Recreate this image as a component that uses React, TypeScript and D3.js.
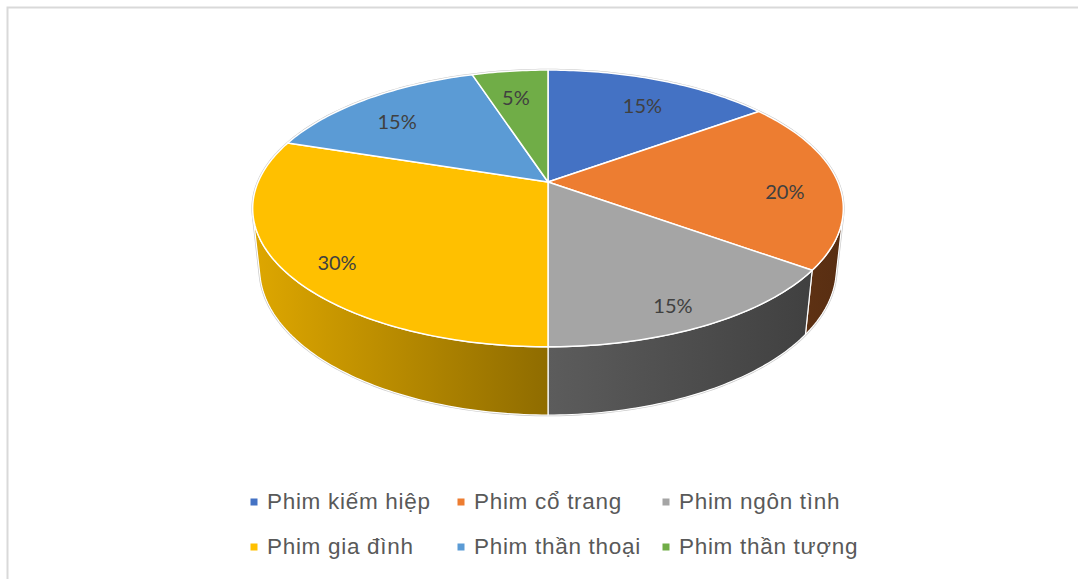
import React from "react";
import * as d3 from "d3";

const categories = ["Phim kiếm hiệp", "Phim cổ trang", "Phim ngôn tình", "Phim gia đình", "Phim thần thoại", "Phim thần tượng"];
const values = [15, 20, 15, 30, 15, 5];
const colors = ["#4472C4", "#ED7D31", "#A5A5A5", "#FFC000", "#5B9BD5", "#70AD47"];

const W = 1078, H = 579;
const CX = 548, CY = 182;
const F = 1348, DIST = 4.65, SINA = 0.46, COSA = 0.888, THICK = 0.2354;

function proj(thetaDeg: number, rho: number, Y: number): [number, number] {
  const t = (thetaDeg * Math.PI) / 180;
  const X = rho * Math.sin(t);
  const Z = rho * Math.cos(t);
  const xc = X;
  const yc = Y * COSA + Z * SINA;
  const zc = DIST + Z * COSA - Y * SINA;
  return [CX + (F * xc) / zc, CY - (F * yc) / zc];
}

function rim(a0: number, a1: number, Y: number): [number, number][] {
  const n = Math.max(2, Math.ceil(Math.abs(a1 - a0) / 1));
  const pts: [number, number][] = [];
  for (let i = 0; i <= n; i++) pts.push(proj(a0 + ((a1 - a0) * i) / n, 1, Y));
  return pts;
}

const toPath = (pts: [number, number][]) => "M" + pts.map((p) => p[0].toFixed(2) + "," + p[1].toFixed(2)).join("L") + "Z";

export default function App() {
  const total = d3.sum(values);
  const angle = d3.scaleLinear().domain([0, total]).range([0, 360]);
  const cum = d3.cumsum(values);
  const slices = values.map((v, i) => ({
    i,
    a0: angle(cum[i] - v),
    a1: angle(cum[i]),
    color: colors[i],
    pct: Math.round((v / total) * 100) + "%",
  }));
  const visA = 104, visB = 256;
  const shade = (c: string, f: number) => {
    const r = d3.rgb(c);
    return d3.rgb(r.r * f, r.g * f, r.b * f).formatHex();
  };
  const stops = [
    [0, 0.87],
    [0.5, 0.56],
    [1, 0.37],
  ];
  const xL = proj(visB, 1, 0)[0];
  const xR = proj(visA, 1, 0)[0];
  const apex = proj(0, 0, 0);
  const silhouette = toPath([...rim(visA, visB, -THICK), ...rim(visB, visA + 360, 0)]);

  const legendX = [254, 461, 666];
  const legendY = [502, 547];

  return (
    <svg width={W} height={H} style={{ position: "absolute", left: 0, top: 0 }}>
      <defs>
        {slices.map((s) => (
          <linearGradient key={s.i} id={"g" + s.i} gradientUnits="userSpaceOnUse" x1={xL} x2={xR} y1={0} y2={0}>
            {stops.map(([o, f]) => (
              <stop key={o} offset={o} stopColor={shade(s.color, f)} />
            ))}
          </linearGradient>
        ))}
      </defs>
      <rect x={0} y={0} width={W} height={H} fill="#ffffff" />
      <rect x={7.5} y={7.5} width={W + 10} height={H + 10} fill="none" stroke="#d9d9d9" strokeWidth={2} />
      <path d={silhouette} fill="none" stroke="#c8c8c8" strokeWidth={2.5} />
      {slices.map((s) => {
        const a0 = Math.max(s.a0, visA);
        const a1 = Math.min(s.a1, visB);
        if (a1 <= a0) return null;
        const pts = [...rim(a0, a1, 0), ...rim(a1, a0, -THICK)];
        return <path key={"side" + s.i} d={toPath(pts)} fill={`url(#g${s.i})`} stroke="#ffffff" strokeWidth={1.2} strokeLinejoin="round" />;
      })}
      {slices.map((s) => {
        const pts = [apex, ...rim(s.a0, s.a1, 0)];
        return <path key={"top" + s.i} d={toPath(pts)} fill={s.color} stroke="#ffffff" strokeWidth={1.5} strokeLinejoin="round" />;
      })}
      {slices.map((s) => {
        const [x, y] = proj((s.a0 + s.a1) / 2, 0.82, -0.035);
        return (
          <text key={"lab" + s.i} x={x} y={y} textAnchor="middle" dominantBaseline="central" fontFamily="Lato, 'Open Sans', sans-serif" fontSize={20} fill="#404040">
            {s.pct}
          </text>
        );
      })}
      {categories.map((c, i) => {
        const col = i % 3, row = Math.floor(i / 3);
        const x = legendX[col], y = legendY[row];
        return (
          <g key={"leg" + i}>
            <rect x={x - 3.5} y={y - 3.5} width={7} height={7} fill={colors[i]} />
            <text x={x + 13} y={y + 6.5} fontFamily="'Liberation Sans', Arial, sans-serif" fontSize={22.5} letterSpacing={0.7} fill="#595959">
              {c}
            </text>
          </g>
        );
      })}
    </svg>
  );
}
